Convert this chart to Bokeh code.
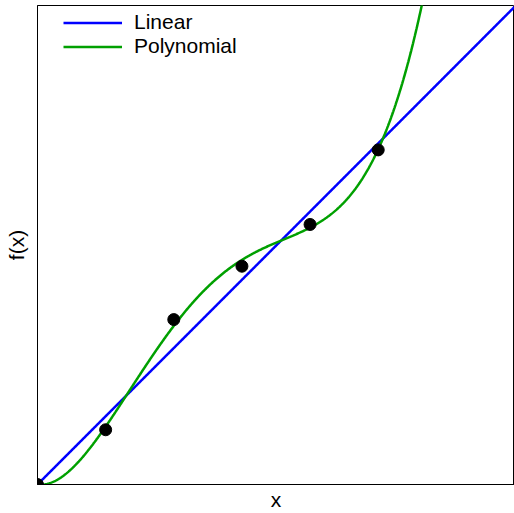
import numpy as np
from bokeh.plotting import figure
from bokeh.models import Legend, LegendItem, FixedTicker
from bokeh.embed import file_html
from bokeh.resources import INLINE

# data
x_pts = [0, 1, 2, 3, 4, 5]
y_pts = [0.0, 0.80, 2.41, 3.19, 3.80, 4.89]
series_names = ["Linear", "Polynomial"]
x_label = "x"
y_label = "f(x)"

xa = np.array(x_pts, dtype=float)
ya = np.array(y_pts, dtype=float)
xs = np.linspace(0, 7, 800)

# least-squares fits through the origin
slope = (xa * ya).sum() / (xa * xa).sum()
lin = slope * xs
V = np.vstack([xa**k for k in range(1, 5)]).T
coef = np.linalg.lstsq(V, ya, rcond=None)[0]
poly = sum(coef[k - 1] * xs**k for k in range(1, 5))

p = figure(width=514, height=513, x_range=(0, 7), y_range=(0, 7),
           output_backend="svg", toolbar_location=None,
           min_border_left=37, min_border_right=0, min_border_top=5, min_border_bottom=29)

r_lin = p.line(xs, lin, color="#0000ff", line_width=2.5)
r_poly = p.line(xs, poly, color="#00a000", line_width=2.5)
p.scatter(x_pts, y_pts, size=12, color="black")

p.xaxis.axis_label = x_label
p.yaxis.axis_label = y_label
for ax in (p.xaxis, p.yaxis):
    ax.ticker = FixedTicker(ticks=[])
    ax.major_tick_out = 0
    ax.major_tick_in = 0
    ax.minor_tick_out = 0
    ax.minor_tick_in = 0
    ax.major_label_standoff = 0
    ax.axis_line_color = "black"
    ax.axis_label_text_font = "Liberation Sans"
    ax.axis_label_text_font_size = "21px"
    ax.axis_label_text_font_style = "normal"
    ax.axis_label_text_color = "black"
p.xaxis.axis_label_standoff = 3
p.xaxis.axis_label_text_baseline = "middle"
p.yaxis.axis_label_standoff = 10
p.xgrid.visible = False
p.ygrid.visible = False
p.outline_line_color = "black"
p.outline_line_alpha = 1

legend = Legend(items=[LegendItem(label=series_names[0], renderers=[r_lin]),
                       LegendItem(label=series_names[1], renderers=[r_poly])],
                location=(26, 426), padding=0, margin=0, spacing=-3,
                label_height=21, glyph_height=21, glyph_width=59, label_standoff=12,
                label_text_font="Liberation Sans", label_text_font_size="21px",
                label_text_color="black", border_line_color=None,
                background_fill_alpha=0)
p.add_layout(legend)

out = open("out.html", "w")
out.write(file_html(p, INLINE))
out.close()
